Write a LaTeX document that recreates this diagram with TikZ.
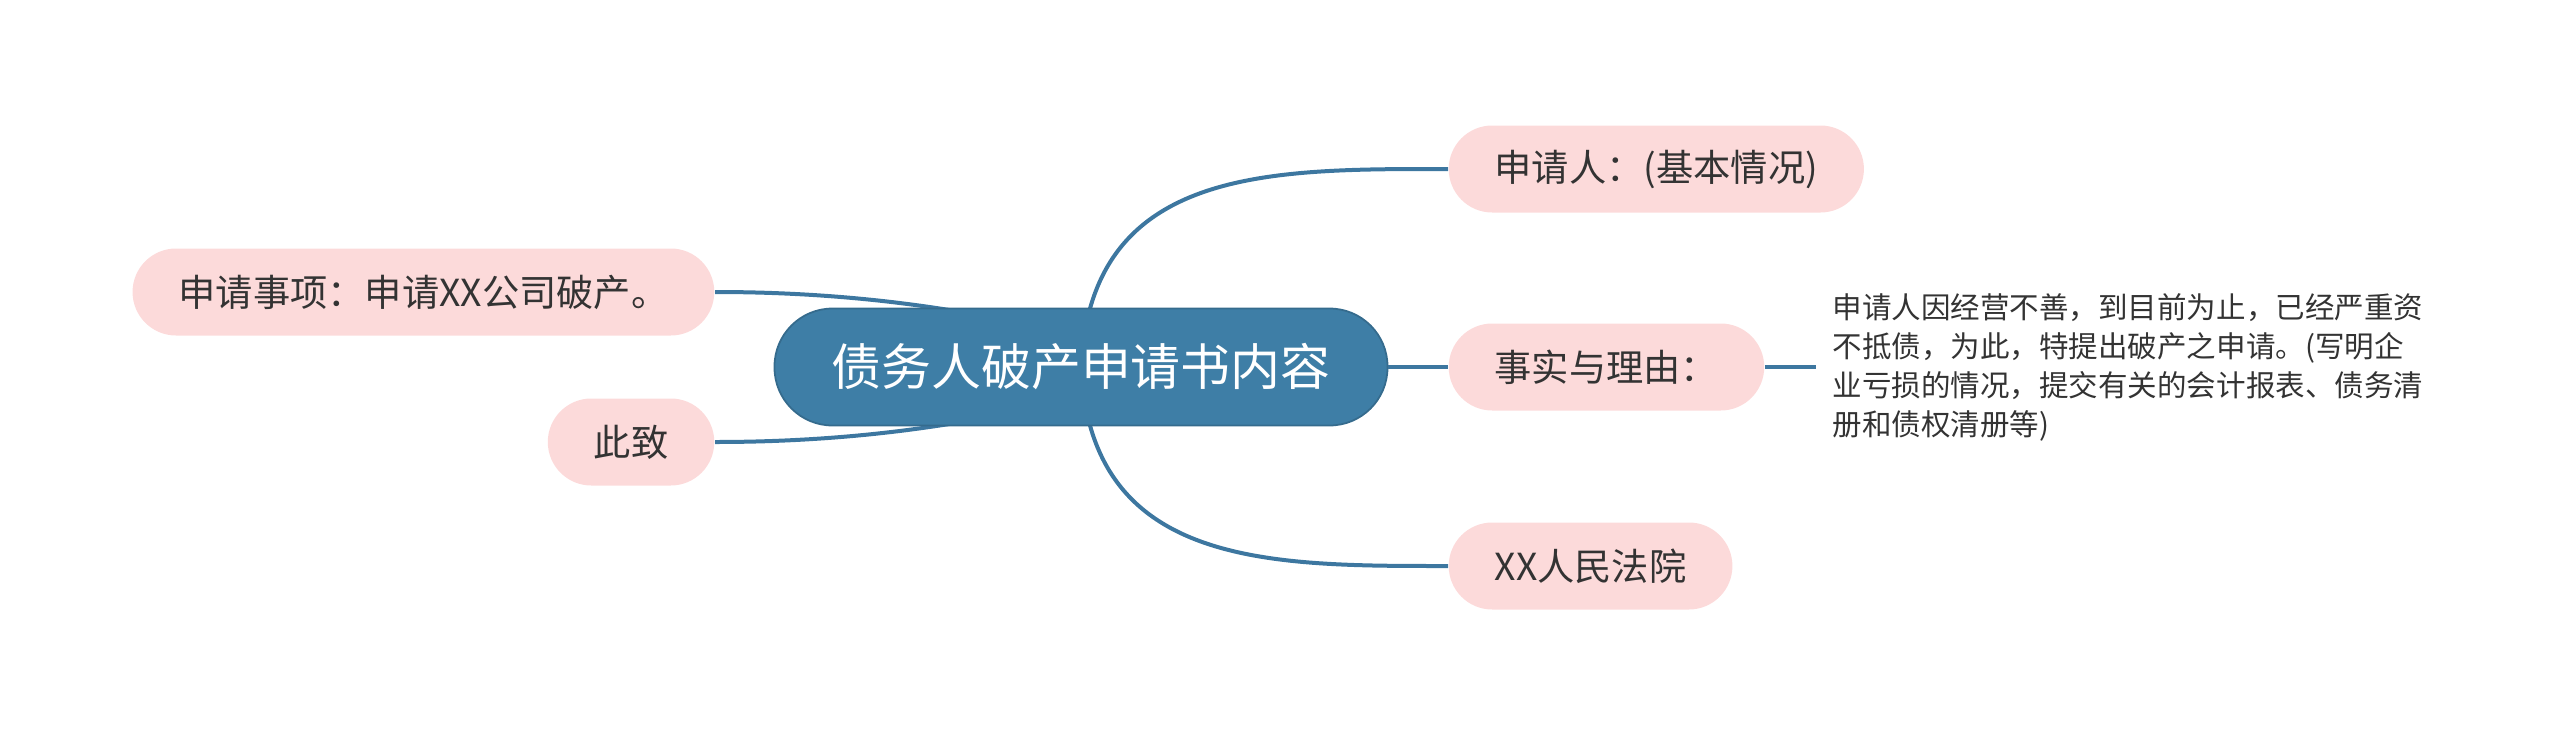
\documentclass[tikz,border=0pt]{standalone}
\usepackage{fontspec}
\setmainfont{Noto Sans CJK SC}
\usetikzlibrary{backgrounds,calc}
\definecolor{hubblue}{HTML}{3E7EA6}
\definecolor{leafpink}{HTML}{FCDADA}
\definecolor{linkblue}{HTML}{3D77A0}
\definecolor{inkgray}{HTML}{333333}

\begin{document}
\begin{tikzpicture}[
  x=0.1mm, y=-0.1mm,
  hub/.style={fill=hubblue, draw=hubblue!85!black, line width=0.5pt,
              text=white, rounded corners=5.8mm, minimum height=11.7mm,
              inner xsep=5.7mm, font=\fontsize{14.2}{17}\selectfont},
  leaf/.style={fill=leafpink, text=inkgray, rounded corners=4.35mm,
               minimum height=8.7mm, inner xsep=4.6mm,
               font=\fontsize{10.6}{12}\selectfont},
  note/.style={text=inkgray, align=left, inner xsep=1.6mm,
               font=\fontsize{8.4}{11.1}\selectfont},
  link/.style={draw=linkblue, line width=0.4mm},
]
\useasboundingbox (0,0) rectangle (2560,735);

% Centre
\node[hub] (hub) at (1081,367) {债务人破产申请书内容};

% Right branches
\node[leaf, anchor=west] (applicant) at (1448,169) {申请人：(基本情况)};
\node[leaf, anchor=west] (reason) at (1448,367) {事实与理由：};
\node[leaf, anchor=west] (court) at (1448,566) {XX人民法院};
\node[note, anchor=west] (detail) at (1816,367)
  {申请人因经营不善，到目前为止，已经严重资\\
   不抵债，为此，特提出破产之申请。(写明企\\
   业亏损的情况，提交有关的会计报表、债务清\\
   册和债权清册等)};

% Left branches
\node[leaf, anchor=east] (matter) at (715,292) {申请事项：申请XX公司破产。};
\node[leaf, anchor=east] (regards) at (715,442) {此致};

% Connectors
\coordinate (hubup) at ($(hub.center)+(0,-30)$);
\coordinate (hubdown) at ($(hub.center)+(0,30)$);
\begin{scope}[on background layer]
\draw[link] (hub.center) .. controls +(10,-200) and +(-180,0) .. (applicant.west);
\draw[link] (hub.center) .. controls +(10,200) and +(-180,0) .. (court.west);
\draw[link] (hubup) .. controls +(-90,-22) and +(160,0) .. (matter.east);
\draw[link] (hubdown) .. controls +(-90,22) and +(160,0) .. (regards.east);
\end{scope}
\draw[link] (hub.east) -- (reason.west);
\draw[link] (reason.east) -- (detail.west);
\end{tikzpicture}
\end{document}
